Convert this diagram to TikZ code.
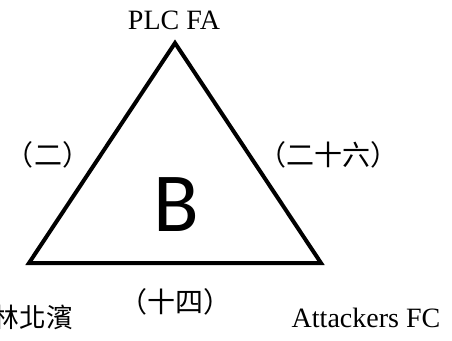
\documentclass[tikz,border=0pt]{standalone}
\usepackage{fontspec}
\setmainfont{Liberation Serif}
\newfontfamily\cjkfont{Noto Sans CJK TC}
\newfontfamily\groupfont{Carlito}
\usetikzlibrary{positioning}
\tikzset{
  team/.style={font=\fontsize{21}{25}\selectfont,inner sep=0pt},
  cjkteam/.style={font=\cjkfont\fontsize{20}{24}\selectfont,inner sep=0pt},
  score/.style={font=\cjkfont\fontsize{21}{25}\selectfont,inner sep=0pt},
  side/.style={line width=3pt,line join=miter},
  grouplabel/.style={font=\groupfont\fontsize{63}{70}\selectfont,inner sep=0pt},
}
\begin{document}
\begin{tikzpicture}[x=0.75pt,y=-0.75pt]
  \useasboundingbox (0,0) rectangle (452,340);
  \coordinate (plc) at (175,43);
  \coordinate (lam) at (29,263);
  \coordinate (att) at (321,263);
  \draw[side] (plc) -- (att) -- (lam) -- cycle;
  \node[team] (plclbl) at (174,20) {PLC FA};
  \node[cjkteam,anchor=east] (lamlbl) at (73,317) {林北濱};
  \node[team] (attlbl) at (366,318) {Attackers FC};
  \node[score] (leftscore) at (48,155) {（二）};
  \node[score] (rightscore) at (328,155) {（二十六）};
  \node[score] (bottomscore) at (175,302) {（十四）};
  \node[grouplabel] (group) at (176,205) {B};
\end{tikzpicture}
\end{document}
